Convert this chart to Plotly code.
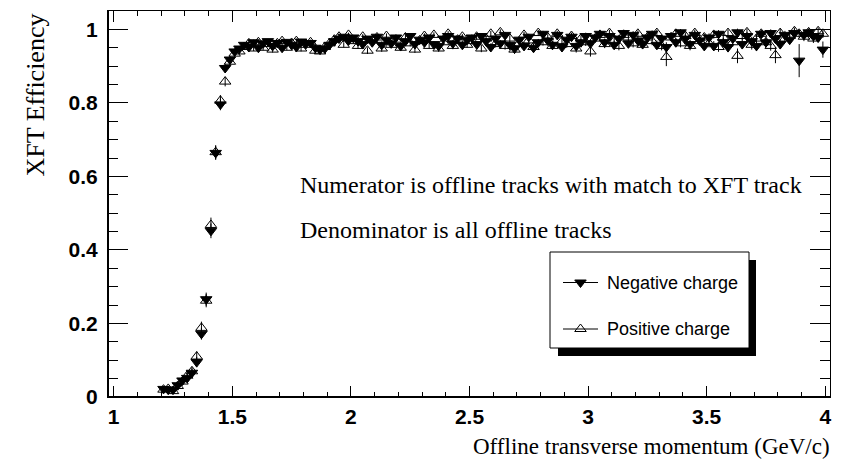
import plotly.graph_objects as go

# ---------------------------------------------------------------------------
# XFT track-trigger efficiency vs offline transverse momentum
# ---------------------------------------------------------------------------

# bin centres (GeV/c), 0.02 GeV/c wide bins starting at 1.20
pt = [round(1.21 + 0.02 * i, 2) for i in range(140)]

# turn-on region, 1.21 .. 1.51 GeV/c
neg_turn_on = [0.022, 0.020, 0.020, 0.032, 0.045, 0.052, 0.066, 0.095,
               0.172, 0.266, 0.452, 0.664, 0.796, 0.895, 0.918, 0.940]
pos_turn_on = [0.020, 0.022, 0.016, 0.030, 0.042, 0.058, 0.070, 0.110,
               0.188, 0.262, 0.468, 0.666, 0.806, 0.858, 0.912, 0.934]

# plateau, 1.53 .. 3.99 GeV/c
neg_plateau = [
    0.948, 0.958, 0.952, 0.965, 0.950, 0.962, 0.968, 0.955, 0.963, 0.950, 0.966, 0.958,
    0.952, 0.967, 0.960, 0.963, 0.950, 0.945, 0.948, 0.958, 0.968, 0.975, 0.980, 0.970,
    0.978, 0.968, 0.960, 0.975, 0.965, 0.980, 0.958, 0.972, 0.962, 0.978, 0.955, 0.968, 0.982,
    0.960, 0.972, 0.965, 0.978, 0.960, 0.955, 0.975, 0.982, 0.962, 0.975, 0.958, 0.972,
    0.978, 0.960, 0.982, 0.968, 0.952, 0.975, 0.962, 0.985, 0.958, 0.948, 0.972, 0.955, 0.980,
    0.950, 0.965, 0.988, 0.970, 0.958, 0.985, 0.952, 0.972, 0.980, 0.955, 0.965, 0.982,
    0.962, 0.978, 0.988, 0.965, 0.982, 0.958, 0.975, 0.990, 0.962, 0.985, 0.970, 0.960, 0.978,
    0.988, 0.958, 0.975, 0.952, 0.982, 0.965, 0.992, 0.975, 0.960, 0.985, 0.970, 0.955,
    0.978, 0.955, 0.988, 0.965, 0.952, 0.975, 0.992, 0.960, 0.982, 0.968, 0.955, 0.988, 0.965,
    0.990, 0.975, 0.960, 0.985, 0.972, 0.990, 0.915, 0.985, 0.992, 0.982, 0.978, 0.945,
]
pos_plateau = [
    0.940, 0.952, 0.962, 0.948, 0.965, 0.950, 0.960, 0.945, 0.962, 0.968, 0.950, 0.963,
    0.968, 0.948, 0.958, 0.965, 0.942, 0.940, 0.952, 0.962, 0.972, 0.980, 0.958, 0.985,
    0.968, 0.955, 0.980, 0.942, 0.970, 0.978, 0.948, 0.982, 0.958, 0.972, 0.950, 0.978, 0.962,
    0.945, 0.970, 0.982, 0.955, 0.985, 0.948, 0.965, 0.988, 0.955, 0.972, 0.980, 0.958,
    0.968, 0.980, 0.948, 0.975, 0.988, 0.960, 0.992, 0.955, 0.975, 0.945, 0.962, 0.985, 0.970,
    0.952, 0.990, 0.965, 0.978, 0.955, 0.988, 0.968, 0.960, 0.982, 0.948, 0.975, 0.965,
    0.940, 0.975, 0.985, 0.960, 0.990, 0.968, 0.955, 0.985, 0.978, 0.962, 0.988, 0.958, 0.978,
    0.968, 0.990, 0.955, 0.925, 0.978, 0.988, 0.962, 0.982, 0.955, 0.990, 0.968, 0.978,
    0.962, 0.985, 0.952, 0.978, 0.990, 0.965, 0.928, 0.982, 0.992, 0.958, 0.975, 0.988, 0.965,
    0.955, 0.930, 0.990, 0.975, 0.982, 0.995, 0.988, 0.980, 0.992, 0.975, 0.995, 0.988,
]

# statistical uncertainties
neg_turn_on_err = [0.008, 0.008, 0.008, 0.009, 0.010, 0.011, 0.012, 0.014,
                   0.016, 0.018, 0.020, 0.019, 0.016, 0.012, 0.010, 0.008]
pos_turn_on_err = [0.008, 0.008, 0.007, 0.009, 0.010, 0.011, 0.012, 0.014,
                   0.017, 0.018, 0.020, 0.019, 0.015, 0.013, 0.010, 0.008]
neg_plateau_err = [
    0.007, 0.006, 0.006, 0.007, 0.006, 0.007, 0.006, 0.007, 0.007, 0.006, 0.007, 0.007,
    0.006, 0.007, 0.007, 0.007, 0.008, 0.008, 0.007, 0.007, 0.007, 0.006, 0.006, 0.007,
    0.007, 0.008, 0.008, 0.007, 0.008, 0.007, 0.009, 0.008, 0.008, 0.007, 0.009, 0.008, 0.007,
    0.008, 0.008, 0.008, 0.007, 0.008, 0.009, 0.008, 0.007, 0.008, 0.008, 0.009, 0.008,
    0.008, 0.009, 0.008, 0.009, 0.010, 0.008, 0.009, 0.008, 0.009, 0.011, 0.009, 0.010, 0.008,
    0.011, 0.009, 0.008, 0.009, 0.010, 0.008, 0.011, 0.009, 0.009, 0.010, 0.009, 0.009,
    0.010, 0.009, 0.009, 0.010, 0.009, 0.011, 0.010, 0.009, 0.011, 0.010, 0.010, 0.011, 0.010,
    0.009, 0.012, 0.011, 0.013, 0.010, 0.011, 0.009, 0.011, 0.012, 0.010, 0.011, 0.012,
    0.011, 0.013, 0.010, 0.012, 0.014, 0.011, 0.010, 0.013, 0.011, 0.012, 0.014, 0.011, 0.013,
    0.010, 0.012, 0.013, 0.011, 0.012, 0.010, 0.045, 0.011, 0.010, 0.012, 0.013, 0.022,
]
pos_plateau_err = [
    0.008, 0.007, 0.007, 0.007, 0.006, 0.007, 0.007, 0.008, 0.007, 0.006, 0.007, 0.007,
    0.006, 0.008, 0.007, 0.007, 0.008, 0.008, 0.007, 0.007, 0.006, 0.006, 0.007, 0.006,
    0.007, 0.008, 0.007, 0.009, 0.008, 0.007, 0.009, 0.007, 0.008, 0.008, 0.009, 0.007, 0.008,
    0.009, 0.008, 0.007, 0.008, 0.007, 0.009, 0.008, 0.007, 0.009, 0.008, 0.007, 0.008,
    0.009, 0.008, 0.010, 0.009, 0.008, 0.009, 0.008, 0.010, 0.009, 0.011, 0.009, 0.008, 0.009,
    0.010, 0.008, 0.009, 0.009, 0.010, 0.008, 0.009, 0.010, 0.009, 0.011, 0.009, 0.010,
    0.014, 0.010, 0.009, 0.011, 0.009, 0.010, 0.012, 0.009, 0.010, 0.011, 0.009, 0.011, 0.010,
    0.011, 0.009, 0.012, 0.025, 0.010, 0.009, 0.011, 0.010, 0.012, 0.009, 0.011, 0.010,
    0.011, 0.010, 0.013, 0.011, 0.010, 0.012, 0.020, 0.011, 0.010, 0.013, 0.011, 0.010, 0.012,
    0.013, 0.022, 0.011, 0.012, 0.011, 0.010, 0.011, 0.012, 0.010, 0.012, 0.010, 0.011,
]

neg_eff = neg_turn_on + neg_plateau
pos_eff = pos_turn_on + pos_plateau
neg_err = neg_turn_on_err + neg_plateau_err
pos_err = pos_turn_on_err + pos_plateau_err

series_names = ["Negative charge", "Positive charge"]
x_ticks = [1, 1.5, 2, 2.5, 3, 3.5, 4]
y_ticks = [0, 0.2, 0.4, 0.6, 0.8, 1]

# ---------------------------------------------------------------------------
# page geometry
# ---------------------------------------------------------------------------
W, H = 855, 461
ML, MR, MT, MB = 108, 25, 11, 64
PW, PH = W - ML - MR, H - MT - MB
X_RANGE = [0.976, 4.02]
Y_RANGE = [0.0, 1.05]

SERIF = "Liberation Serif, Times New Roman, serif"
SANS = "Liberation Sans, Arial, sans-serif"


def fx(px):
    """pixel column -> paper x"""
    return (px - ML) / PW


def fy(py):
    """pixel row -> paper y"""
    return 1 - (py - MT) / PH


def dx(px):
    return X_RANGE[0] + fx(px) * (X_RANGE[1] - X_RANGE[0])


def dy(py):
    return Y_RANGE[0] + fy(py) * (Y_RANGE[1] - Y_RANGE[0])


fig = go.Figure()

styles = [
    dict(symbol="triangle-down", size=10, color="black", line=dict(color="black", width=1)),
    dict(symbol="triangle-up-open", size=10, color="black", line=dict(color="black", width=1)),
]

for name, eff, err, mk in zip(series_names, [neg_eff, pos_eff], [neg_err, pos_err], styles):
    fig.add_trace(go.Scatter(
        x=pt, y=eff, mode="markers", name=name, marker=mk,
        error_y=dict(type="data", array=err, color="black", thickness=1, width=0),
        showlegend=False, cliponaxis=True,
    ))

# ---------------------------------------------------------------------------
# legend box (drawn by hand, with drop shadow)
# ---------------------------------------------------------------------------
box = dict(x0=550, x1=749, y0=252, y1=348)
shadow = 8
entry_rows = [282.5, 329]
line_x = (563, 598)
text_x = 605

shapes = [
    dict(type="rect", xref="paper", yref="paper", layer="below",
         x0=fx(box["x0"] + shadow), x1=fx(box["x1"] + shadow - 1),
         y0=fy(box["y0"] + shadow), y1=fy(box["y1"] + shadow),
         fillcolor="black", line=dict(width=0)),
    dict(type="rect", xref="paper", yref="paper", layer="below",
         x0=fx(box["x0"]), x1=fx(box["x1"]), y0=fy(box["y0"]), y1=fy(box["y1"]),
         fillcolor="white", line=dict(color="black", width=1)),
]
for row in entry_rows:
    shapes.append(dict(type="line", xref="paper", yref="paper", layer="below",
                       x0=fx(line_x[0]), x1=fx(line_x[1]), y0=fy(row), y1=fy(row),
                       line=dict(color="black", width=1)))

# heavier left / bottom axis lines
shapes += [
    dict(type="line", xref="paper", yref="paper", x0=0, x1=0, y0=0, y1=1,
         line=dict(color="black", width=2)),
    dict(type="line", xref="paper", yref="paper", x0=0, x1=1, y0=0, y1=0,
         line=dict(color="black", width=2)),
]

for row, mk in zip(entry_rows, styles):
    fig.add_trace(go.Scatter(
        x=[dx((line_x[0] + line_x[1]) / 2)], y=[dy(row)], mode="markers",
        marker=mk, showlegend=False, hoverinfo="skip",
    ))

annotations = [
    dict(text="Numerator is offline tracks with match to XFT track",
         x=fx(298), y=fy(185), xanchor="left", yanchor="middle",
         font=dict(family=SERIF, size=24, color="black")),
    dict(text="Denominator is all offline tracks",
         x=fx(298), y=fy(230), xanchor="left", yanchor="middle",
         font=dict(family=SERIF, size=24, color="black")),
    dict(text="XFT Efficiency", textangle=-90,
         x=fx(35), y=fy(12), xanchor="center", yanchor="top",
         font=dict(family=SERIF, size=26, color="black")),
    dict(text="Offline transverse momentum (GeV/c)",
         x=fx(832), y=fy(446), xanchor="right", yanchor="middle",
         font=dict(family=SERIF, size=23, color="black")),
]
for row, name in zip(entry_rows, series_names):
    annotations.append(dict(text=name, x=fx(text_x), y=fy(row), xanchor="left", yanchor="middle",
                            font=dict(family=SANS, size=18, color="black")))
for a in annotations:
    a.update(xref="paper", yref="paper", showarrow=False)

tick_font = dict(family=SANS, size=21, color="black", weight="bold")

fig.update_layout(
    width=W, height=H,
    margin=dict(l=ML, r=MR, t=MT, b=MB, pad=0),
    paper_bgcolor="white", plot_bgcolor="white",
    showlegend=False,
    shapes=shapes,
    annotations=annotations,
    xaxis=dict(
        range=X_RANGE, showgrid=False, zeroline=False,
        showline=True, linecolor="black", linewidth=1, mirror="ticks",
        tickmode="array", tickvals=x_ticks, ticktext=[f"{v:g}" for v in x_ticks],
        ticks="inside", ticklen=11, tickwidth=1, tickcolor="black",
        minor=dict(ticks="inside", ticklen=5, tickwidth=1, tickcolor="black",
                   dtick=0.1, tick0=1, showgrid=False),
        tickfont=tick_font, ticklabelstandoff=1,
    ),
    yaxis=dict(
        range=Y_RANGE, showgrid=False, zeroline=False,
        showline=True, linecolor="black", linewidth=1, mirror="ticks",
        tickmode="array", tickvals=y_ticks, ticktext=[f"{v:g}" for v in y_ticks],
        ticks="inside", ticklen=20, tickwidth=1, tickcolor="black",
        minor=dict(ticks="inside", ticklen=10, tickwidth=1, tickcolor="black",
                   dtick=0.05, tick0=0, showgrid=False),
        tickfont=tick_font, ticklabelstandoff=5,
    ),
)

fig.write_html("out.html")
